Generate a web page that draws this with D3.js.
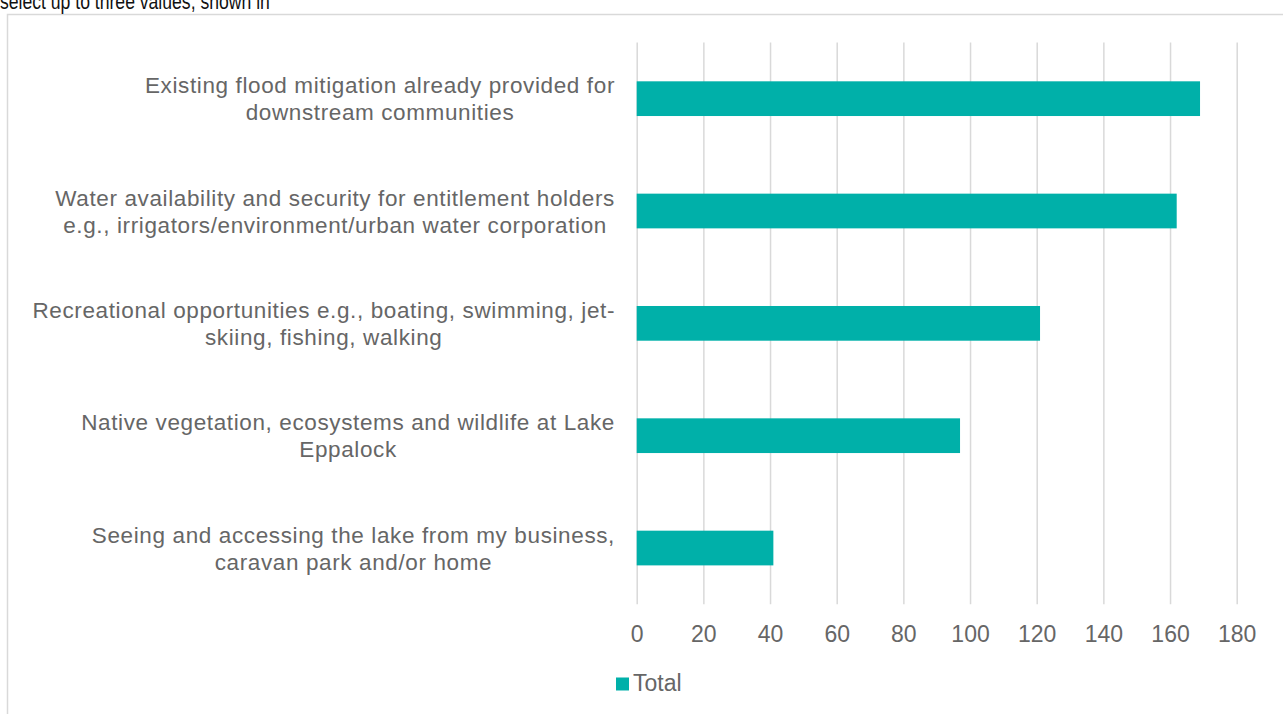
<!DOCTYPE html>
<html>
<head>
<meta charset="utf-8">
<script src="https://cdn.jsdelivr.net/npm/d3@7/dist/d3.min.js"></script>
<style>
  html, body { margin: 0; padding: 0; background: #ffffff; }
  svg { display: block; }
</style>
</head>
<body>
<svg id="chart" width="1283" height="714"></svg>
<script>
// Survey answers: wrapped label lines for each category, top to bottom
const categoryLines = [
  ["Existing flood mitigation already provided for", "downstream communities"],
  ["Water availability and security for entitlement holders", "e.g., irrigators/environment/urban water corporation"],
  ["Recreational opportunities e.g., boating, swimming, jet-", "skiing, fishing, walking"],
  ["Native vegetation, ecosystems and wildlife at Lake", "Eppalock"],
  ["Seeing and accessing the lake from my business,", "caravan park and/or home"]
];
const categories = categoryLines.map(l => l.join(" "));
const totals = [169, 162, 121, 97, 41];
const xTicks = [0, 20, 40, 60, 80, 100, 120, 140, 160, 180];
const seriesName = "Total";
const titleText = "select up to three values, shown in";

const svg = d3.select("#chart");
const textGrey = "#666666";
const barColor = "#00b0a9";
const font = "'Liberation Sans', Arial, Helvetica, sans-serif";

// Frame around the chart area
svg.append("rect")
  .attr("x", 7.5).attr("y", 14.5)
  .attr("width", 1300).attr("height", 740)
  .attr("fill", "none").attr("stroke", "#d9d9d9").attr("stroke-width", 1.5);

// Heading text above the frame (condensed, partly cut by the top edge)
svg.append("text")
  .attr("transform", "translate(0,9) scale(0.8,1)")
  .attr("font-family", font).attr("font-size", 22)
  .attr("fill", "#111111")
  .text(titleText);

const plot = { left: 636.7, right: 1236.7, top: 42.5, bottom: 604.2 };

const x = d3.scaleLinear().domain([0, 180]).range([plot.left, plot.right]);
const y = d3.scaleBand()
  .domain(categories)
  .range([plot.top, plot.bottom])
  .paddingInner(0.691)
  .paddingOuter(0.3455);

// Vertical gridlines and tick labels via a bottom axis
const xAxis = d3.axisBottom(x)
  .tickValues(xTicks)
  .tickSize(-(plot.bottom - plot.top))
  .tickPadding(0)
  .tickFormat(d3.format("d"));

const gx = svg.append("g")
  .attr("transform", `translate(0,${plot.bottom})`)
  .call(xAxis);
gx.select(".domain").remove();
gx.selectAll(".tick line")
  .attr("stroke", "#d9d9d9").attr("stroke-width", 1.5);
gx.selectAll(".tick text")
  .attr("y", 38)
  .attr("dy", 0)
  .attr("font-family", font).attr("font-size", 23)
  .attr("fill", textGrey);

// Bars
svg.append("g")
  .selectAll("rect")
  .data(totals)
  .join("rect")
  .attr("x", x(0))
  .attr("y", (d, i) => y(categories[i]))
  .attr("width", d => x(d) - x(0))
  .attr("height", y.bandwidth())
  .attr("fill", barColor);

// Category labels: each wrapped block centred, right edge aligned near the axis
const labelRight = 615;
const lineGap = 27;
const labels = svg.append("g")
  .attr("font-family", font).attr("font-size", 22.5)
  .attr("letter-spacing", "0.62px")
  .attr("fill", textGrey);

categoryLines.forEach((lines, i) => {
  const cy = y(categories[i]) + y.bandwidth() / 2;
  const t = labels.append("text").attr("text-anchor", "middle");
  const spans = lines.map((line, j) =>
    t.append("tspan")
      .attr("y", cy - (lines.length - 1) * lineGap / 2 + j * lineGap + 8)
      .text(line));
  const widest = d3.max(spans, s => s.node().getComputedTextLength());
  spans.forEach(s => s.attr("x", labelRight - widest / 2));
});

// Legend
const legend = svg.append("g");
legend.append("rect")
  .attr("x", 616).attr("y", 677.5)
  .attr("width", 13).attr("height", 13)
  .attr("fill", barColor);
legend.append("text")
  .attr("x", 633).attr("y", 691)
  .attr("font-family", font).attr("font-size", 23)
  .attr("fill", textGrey)
  .text(seriesName);
</script>
</body>
</html>
